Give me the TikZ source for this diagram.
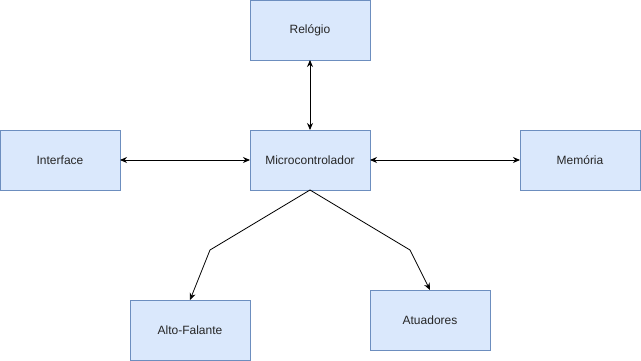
\documentclass[tikz,border=0pt]{standalone}
\usepackage{fontspec}
\setmainfont{Liberation Sans}
\usetikzlibrary{arrows.meta}
\definecolor{boxfill}{HTML}{DAE8FC}
\definecolor{boxline}{HTML}{6C8EBF}
\begin{document}
\begin{tikzpicture}[x=1pt,y=-1pt,
  block/.style={draw=boxline,fill=boxfill,line width=0.8pt,minimum width=120pt,minimum height=60pt,
    inner sep=0pt,outer sep=0pt,font=\fontsize{12}{14}\selectfont,text=black!85},
  link/.style={line width=0.9pt,{Stealth[length=7pt,width=6pt]}-{Stealth[length=7pt,width=6pt]}},
  flow/.style={line width=0.8pt,-{Stealth[length=7pt,width=6pt]}}]
\useasboundingbox (0,0) rectangle (641,361);
\node[block] (rel) at (310,30) {Relógio};
\node[block] (int) at (60,160) {Interface};
\node[block] (mcu) at (310,160) {Microcontrolador};
\node[block] (mem) at (580,160) {Memória};
\node[block] (alto) at (190,330) {Alto-Falante};
\node[block] (atu) at (430,320) {Atuadores};
\draw[link] (rel.south) -- (mcu.north);
\draw[link] (int.east) -- (mcu.west);
\draw[link] (mcu.east) -- (mem.west);
\draw[flow] (mcu.south) -- (210,250) -- (alto.north);
\draw[flow] (mcu.south) -- (410,250) -- (atu.north);
\end{tikzpicture}
\end{document}
